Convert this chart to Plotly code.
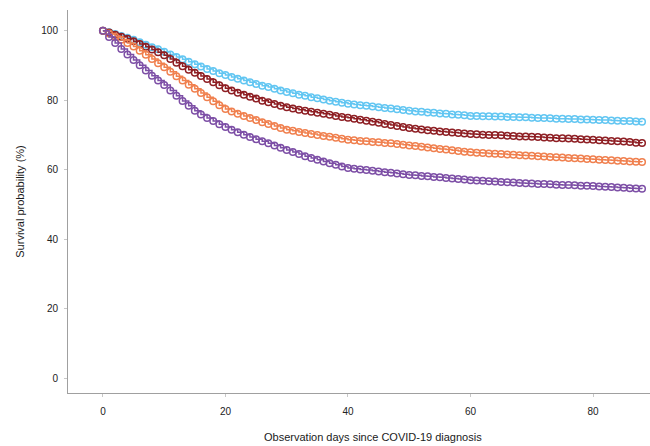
import plotly.graph_objects as go

days = list(range(0, 89))

blue = [100, 99.6, 99.1, 98.5, 98.0, 97.4, 96.7, 96.0, 95.3, 94.7, 94.0, 93.2, 92.5, 91.8, 91.1, 90.4, 89.7, 89.0, 88.4, 87.8,
        87.3, 86.7, 86.2, 85.7, 85.2, 84.7, 84.2, 83.8, 83.3, 82.8, 82.4, 82.0, 81.6, 81.3, 80.9, 80.6, 80.2, 79.9, 79.6, 79.3,
        79.0, 78.8, 78.6, 78.4, 78.2, 78.0, 77.8, 77.6, 77.4, 77.2, 77.0, 76.8, 76.7, 76.5, 76.4, 76.2, 76.1, 75.9, 75.8, 75.7,
        75.5, 75.5, 75.4, 75.4, 75.3, 75.3, 75.2, 75.2, 75.1, 75.1, 75.0, 74.9, 74.9, 74.8, 74.7, 74.7, 74.6, 74.6, 74.5, 74.5,
        74.4, 74.3, 74.3, 74.2, 74.1, 74.0, 74.0, 73.9, 73.8]

red = [100, 99.5, 98.9, 98.3, 97.7, 97.0, 96.2, 95.4, 94.6, 93.8, 93.0, 91.9, 90.8, 89.8, 88.8, 87.9, 87.0, 86.1, 85.2, 84.3,
       83.5, 82.8, 82.2, 81.6, 81.0, 80.5, 79.9, 79.4, 78.9, 78.4, 78.0, 77.6, 77.3, 77.0, 76.7, 76.4, 76.1, 75.8, 75.5, 75.2,
       75.0, 74.7, 74.4, 74.1, 73.8, 73.5, 73.2, 72.9, 72.6, 72.3, 72.0, 71.8, 71.6, 71.4, 71.2, 71.0, 70.9, 70.7, 70.6, 70.4,
       70.3, 70.2, 70.1, 70.0, 70.0, 69.9, 69.8, 69.7, 69.6, 69.6, 69.5, 69.4, 69.3, 69.2, 69.1, 69.1, 69.0, 68.9, 68.8, 68.7,
       68.6, 68.5, 68.4, 68.3, 68.2, 68.1, 68.0, 67.8, 67.7]

orange = [100, 99.2, 98.3, 97.4, 96.5, 95.5, 94.3, 93.1, 91.9, 90.7, 89.5, 88.2, 86.9, 85.7, 84.5, 83.3, 82.1, 80.9, 79.7, 78.6,
          77.5, 76.8, 76.1, 75.5, 74.9, 74.3, 73.7, 73.2, 72.6, 72.0, 71.5, 71.2, 70.9, 70.6, 70.3, 70.0, 69.7, 69.5, 69.2, 68.9,
          68.6, 68.5, 68.3, 68.2, 68.0, 67.9, 67.7, 67.6, 67.4, 67.2, 67.0, 66.8, 66.6, 66.4, 66.2, 66.0, 65.8, 65.6, 65.4, 65.2,
          65.0, 64.9, 64.8, 64.7, 64.6, 64.5, 64.4, 64.3, 64.2, 64.1, 64.0, 63.9, 63.8, 63.7, 63.6, 63.5, 63.4, 63.3, 63.2, 63.1,
          63.0, 62.9, 62.8, 62.7, 62.6, 62.5, 62.4, 62.3, 62.2]

purple = [100, 98.2, 96.5, 94.8, 93.2, 91.6, 90.1, 88.6, 87.1, 85.7, 84.4, 82.8, 81.3, 79.8, 78.4, 77.0, 75.9, 74.9, 74.0, 73.1,
          72.3, 71.5, 70.8, 70.1, 69.4, 68.8, 68.2, 67.6, 67.0, 66.3, 65.7, 65.1, 64.5, 63.9, 63.4, 62.9, 62.4, 61.9, 61.4, 60.9,
          60.5, 60.3, 60.1, 59.9, 59.7, 59.5, 59.3, 59.1, 58.9, 58.7, 58.5, 58.4, 58.2, 58.1, 57.9, 57.8, 57.6, 57.5, 57.3, 57.2,
          57.0, 56.9, 56.8, 56.7, 56.6, 56.5, 56.4, 56.3, 56.2, 56.1, 56.0, 55.9, 55.9, 55.8, 55.7, 55.6, 55.6, 55.5, 55.4, 55.4,
          55.3, 55.2, 55.1, 55.0, 54.9, 54.8, 54.7, 54.6, 54.5]

series = [
    ("Group 1", blue, "#62c6f2"),
    ("Group 2", red, "#8e1f24"),
    ("Group 3", orange, "#f0804f"),
    ("Group 4", purple, "#7d4fa6"),
]

x_ticks = [0, 20, 40, 60, 80]
y_ticks = [0, 20, 40, 60, 80, 100]

fig = go.Figure()
for name, vals, col in series:
    fig.add_trace(go.Scatter(
        x=days, y=vals, name=name, mode="lines+markers",
        line=dict(color=col, width=1.5, shape="hv"),
        marker=dict(symbol="circle-open", size=6.5, color=col, line=dict(width=1.5)),
        showlegend=False,
    ))

font = dict(family="Liberation Sans, Arial, sans-serif", size=10, color="#222222")
fig.update_layout(
    width=650, height=446,
    margin=dict(l=68, r=0, t=10, b=53),
    paper_bgcolor="white", plot_bgcolor="white",
    font=font,
    xaxis=dict(range=[-5.7, 89.3], tickvals=x_ticks, showgrid=False, zeroline=False,
               showline=True, linecolor="#a0a0a0", linewidth=1,
               ticks="outside", ticklen=3, tickcolor="#c8c8c8",
               ticklabelstandoff=6),
    yaxis=dict(range=[-4.3, 106], tickvals=y_ticks, showgrid=False, zeroline=False,
               showline=True, linecolor="#a0a0a0", linewidth=1,
               ticks="outside", ticklen=3, tickcolor="#c8c8c8",
               ticklabelstandoff=4,
               title=dict(text="Survival probability (%)", standoff=14,
                          font=dict(size=11, color="#1a1a1a"))),
    annotations=[dict(text="Observation days since COVID-19 diagnosis",
                      xref="paper", yref="paper", x=(373 - 68) / 582, y=-0.115,
                      xanchor="center", yanchor="middle", showarrow=False,
                      font=dict(size=11, color="#1a1a1a"))],
)

fig.write_html("out.html")
